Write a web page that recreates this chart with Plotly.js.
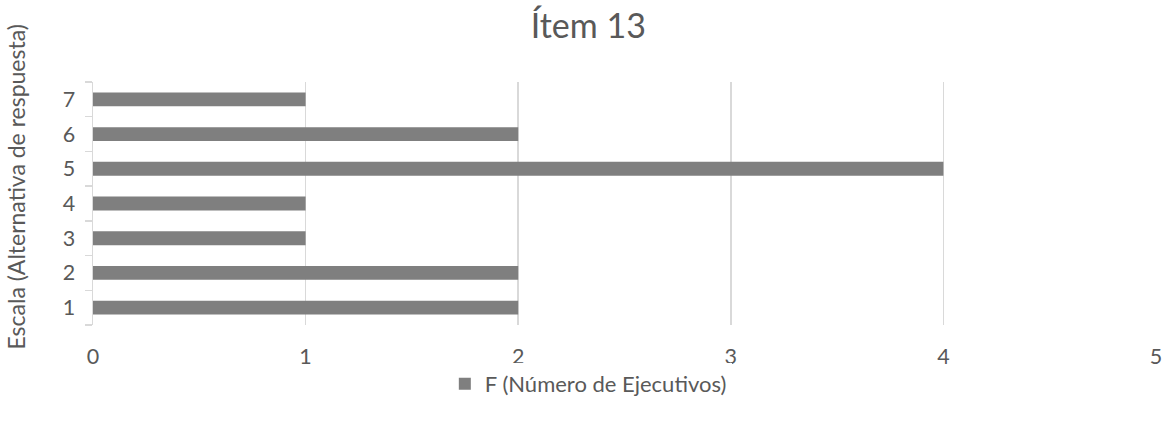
<!DOCTYPE html>
<html>
<head>
<meta charset="utf-8">
<script src="https://cdn.plot.ly/plotly-3.0.1.min.js"></script>
<style>html,body{margin:0;padding:0;background:#fff;}#chart{width:1165px;height:421px;}</style>
</head>
<body>
<div id="chart"></div>
<script>
const categories = ['1', '2', '3', '4', '5', '6', '7'];
const values = [2, 2, 1, 1, 4, 2, 1];
const seriesName = 'F (Número de Ejecutivos)';
const chartTitle = 'Ítem 13';
const yTitle = 'Escala (Alternativa de respuesta)';
const xTicks = [0, 1, 2, 3, 4, 5];

const FONT = 'Lato, "Open Sans", sans-serif';
const TXT = '#595959';

const trace = {
  type: 'bar',
  orientation: 'h',
  x: values,
  y: categories,
  name: seriesName,
  marker: {color: '#7f7f7f'},
  showlegend: true,
  hoverinfo: 'x+y'
};

const layout = {
  width: 1165,
  height: 421,
  paper_bgcolor: '#ffffff',
  plot_bgcolor: '#ffffff',
  font: {family: FONT, color: TXT, size: 21},
  margin: {l: 93, r: 9, t: 82, b: 96, pad: 0},
  title: {
    text: chartTitle,
    font: {family: FONT, size: 34, color: TXT},
    xref: 'container', x: 0.505, xanchor: 'center',
    yref: 'container', y: 1 - 26/421, yanchor: 'middle'
  },
  bargap: 0.6,
  xaxis: {
    range: [0, 5],
    tickvals: xTicks,
    ticktext: xTicks.map(String),
    showgrid: true,
    gridcolor: '#d9d9d9',
    gridwidth: 1.5,
    zeroline: false,
    showline: false,
    ticks: '',
    ticklabelstandoff: 16,
    tickfont: {family: FONT, size: 21.5, color: TXT},
    fixedrange: true
  },
  yaxis: {
    type: 'category',
    categoryorder: 'array',
    categoryarray: categories,
    showgrid: false,
    zeroline: false,
    showline: true,
    linecolor: '#d9d9d9',
    linewidth: 1.5,
    ticks: 'outside',
    tickson: 'boundaries',
    ticklen: 7,
    tickcolor: '#d9d9d9',
    tickwidth: 1.5,
    ticklabelstandoff: 12,
    tickfont: {family: FONT, size: 21.5, color: TXT},
    fixedrange: true
  },
  legend: {
    orientation: 'h',
    xref: 'container', x: 0.505, xanchor: 'center',
    yref: 'container', y: (421 - 384) / 421, yanchor: 'middle',
    font: {family: FONT, size: 22, color: TXT},
    itemwidth: 30
  },
  annotations: [{
    text: yTitle,
    textangle: -90,
    xref: 'paper', x: 0, xanchor: 'center', xshift: -78,
    yref: 'paper', y: 0.5, yanchor: 'middle', yshift: 16,
    showarrow: false,
    font: {family: FONT, size: 23, color: TXT}
  }]
};

Plotly.newPlot('chart', [trace], layout, {displayModeBar: false, staticPlot: true});
</script>
</body>
</html>
